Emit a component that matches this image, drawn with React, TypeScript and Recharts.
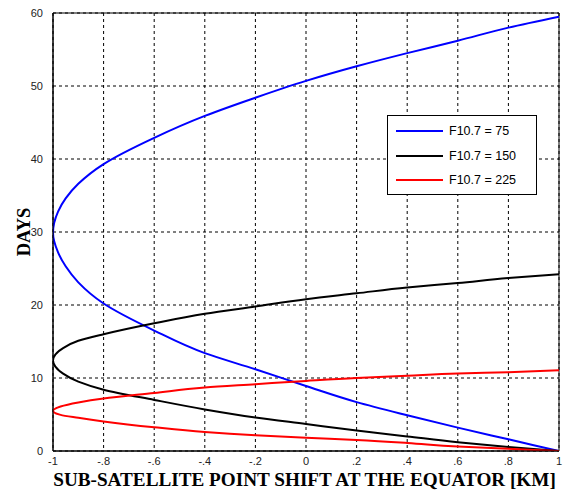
import React from "react";
import {
  CartesianGrid,
  Label,
  Legend,
  Line,
  LineChart,
  ReferenceArea,
  XAxis,
  YAxis,
} from "recharts";

// Sub-satellite point drift vs. elapsed days, one curve per solar flux level
const blueDays = [0, 1.6, 3.2, 4.9, 6.7, 8.9, 11.2, 13.4, 16.5, 20.2, 23.1, 25.3, 27.2, 29.9, 32.8, 34.6, 36.6, 39.3, 42.9, 45.9, 48.4, 50.7, 52.7, 54.5, 56.2, 58.0, 59.5];
const blueShift = [1, 0.8, 0.6, 0.4, 0.2, 0, -0.2, -0.4, -0.6, -0.8, -0.9, -0.95, -0.98, -1, -0.98, -0.95, -0.9, -0.8, -0.6, -0.4, -0.2, 0, 0.2, 0.4, 0.6, 0.8, 1];

const blackDays = [0, 0.55, 1.2, 2.0, 2.8, 3.7, 4.6, 5.7, 7.0, 8.4, 9.5, 10.6, 12.4, 14.1, 15.1, 16.0, 17.5, 18.8, 19.8, 20.8, 21.6, 22.4, 23.0, 23.7, 24.2];
const blackShift = [1, 0.8, 0.6, 0.4, 0.2, 0, -0.2, -0.4, -0.6, -0.8, -0.9, -0.96, -1, -0.96, -0.9, -0.8, -0.6, -0.4, -0.2, 0, 0.2, 0.4, 0.6, 0.8, 1];

const redDays = [0, 0.3, 0.6, 1.1, 1.5, 1.8, 2.15, 2.6, 3.25, 4.05, 4.55, 4.95, 5.5, 6.1, 6.65, 7.2, 7.95, 8.7, 9.15, 9.6, 10.0, 10.3, 10.6, 10.8, 11.05];
const redShift = [1, 0.8, 0.6, 0.4, 0.2, 0, -0.2, -0.4, -0.6, -0.8, -0.9, -0.97, -1, -0.97, -0.9, -0.8, -0.6, -0.4, -0.2, 0, 0.2, 0.4, 0.6, 0.8, 1];

const xTicks = [-1, -0.8, -0.6, -0.4, -0.2, 0, 0.2, 0.4, 0.6, 0.8, 1];
const yTicks = [0, 10, 20, 30, 40, 50, 60];

const series = [
  { name: "F10.7 = 75", color: "#0000ff", days: blueDays, shift: blueShift },
  { name: "F10.7 = 150", color: "#000000", days: blackDays, shift: blackShift },
  { name: "F10.7 = 225", color: "#ff0000", days: redDays, shift: redShift },
];

const zip = (days: number[], shift: number[]) =>
  days.map((d, i) => ({ x: shift[i], y: d }));

// MATLAB-style short decimals: -.8, .2, 0
const fmtShift = (v: number) => {
  if (v === 0) return "0";
  if (Math.abs(v) === 1) return String(v);
  return v.toFixed(1).replace("0.", ".");
};

const tickFont = { fontFamily: "Arial, 'Liberation Sans', sans-serif", fontSize: 11, fill: "#222" };
const titleFont = "'Times New Roman', 'Liberation Serif', serif";

function LegendBox() {
  return (
    <div
      style={{
        width: 148,
        height: 75,
        border: "1px solid #000",
        background: "#fff",
        boxSizing: "content-box",
        paddingTop: 3,
      }}
    >
      {series.map((s) => (
        <div key={s.name} style={{ display: "flex", alignItems: "center", height: 24.5 }}>
          <div style={{ width: 47, height: 2, background: s.color, marginLeft: 8, marginRight: 6 }} />
          <span style={{ fontFamily: "Arial, 'Liberation Sans', sans-serif", fontSize: 12.5, color: "#000" }}>
            {s.name}
          </span>
        </div>
      ))}
    </div>
  );
}

export default function App() {
  return (
    <div style={{ position: "absolute", left: 0, top: 0, background: "#fff" }}>
      <LineChart width={578} height={493} margin={{ top: 13, right: 19, bottom: 12, left: 13 }}>
        <CartesianGrid stroke="#000" strokeDasharray="3 3" vertical horizontal />
        <XAxis
          type="number"
          dataKey="x"
          domain={[-1, 1]}
          ticks={xTicks}
          tickFormatter={fmtShift}
          tick={tickFont}
          tickLine={false}
          tickSize={0}
          tickMargin={6}
          axisLine={{ stroke: "#000" }}
          height={30}
          allowDataOverflow
        >
          <Label
            content={({ viewBox }: any) => (
              <text
                x={viewBox.x + viewBox.width / 2 - 1.5}
                y={viewBox.y + 35}
                textAnchor="middle"
                fontFamily={titleFont}
                fontWeight="bold"
                fontSize={19.2}
                fill="#000"
              >
                SUB-SATELLITE POINT SHIFT AT THE EQUATOR [KM]
              </text>
            )}
          />
        </XAxis>
        <YAxis
          type="number"
          domain={[0, 60]}
          ticks={yTicks}
          tick={tickFont}
          tickLine={false}
          tickSize={0}
          tickMargin={10}
          axisLine={{ stroke: "#000" }}
          width={40}
          allowDataOverflow
        >
          <Label
            content={() => (
              <text
                x={30}
                y={232}
                transform="rotate(-90 30 232)"
                textAnchor="middle"
                fontFamily={titleFont}
                fontWeight="bold"
                fontSize={18.5}
                fill="#000"
              >
                DAYS
              </text>
            )}
          />
        </YAxis>
        <ReferenceArea x1={-1} x2={1} y1={0} y2={60} fill="none" stroke="#000" strokeOpacity={1} />
        {/* days increase along each series, so interpolate monotone in y */}
        {series.map((s) => (
          <Line
            key={s.name}
            name={s.name}
            data={zip(s.days, s.shift)}
            dataKey="y"
            type="monotoneY"
            stroke={s.color}
            strokeWidth={2}
            dot={false}
            activeDot={false}
            isAnimationActive={false}
          />
        ))}
        <Legend
          layout="horizontal"
          verticalAlign="middle"
          align="center"
          content={() => <LegendBox />}
          wrapperStyle={{ left: 387, top: 115, width: 150, height: 78 }}
        />
      </LineChart>
    </div>
  );
}
